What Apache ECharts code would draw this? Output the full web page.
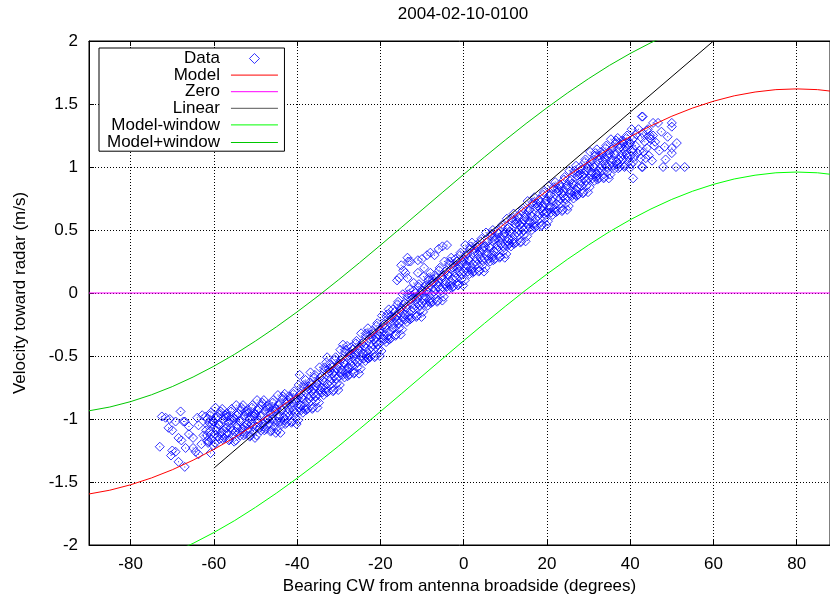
<!DOCTYPE html>
<html>
<head>
    <meta charset="utf-8">
    <script src="https://cdn.jsdelivr.net/npm/echarts/dist/echarts.min.js"></script>
</head>
<body style="margin:0;background-color:#ffffff">
    <div id="main" style="width: 830px;height:596px;"></div>
    <script type="text/javascript">

        var titleText = '2004-02-10-0100';
        var xName = 'Bearing CW from antenna broadside (degrees)';
        var yName = 'Velocity toward radar (m/s)';

        // measured points [bearing deg, velocity m/s]
        var dataPoints = [
            [-73,-1.22],[-72.5,-0.98],[-71.6,-0.99],[-70.6,-1.00],[-70.9,-1.07],[-70,-1.09],[-68,-0.94],[-67,-1.02],
            [-66,-1.06],[-68.5,-1.15],[-67.8,-1.17],[-70,-1.25],[-69.2,-1.26],[-70.3,-1.29],[-68.5,-1.34],[-67,-1.38],
            [-66.8,-1.23],[-65,-1.23],[-64.4,-1.26],[-63.7,-1.28],[-66,-1.12],[-64,-0.99],[-63.7,-1.05],[-62.5,-1.13],
            [-61.5,-1.17],[-60.8,-1.27],[-69.2,-1.02],[-67.3,-1.02],[-65,-1.15],[-63,-1.20],[-62.8,-0.97],[-44,-1.11],
            [-62,-0.98],[-61.75,-1.13],[-61.5,-1.05],[-61.25,-1.18],
            [-61,-1.10],[-60.75,-0.95],[-60.5,-1.16],[-60.25,-1.02],
            [-60,-1.02],[-59.75,-1.19],[-59.5,-0.99],[-59.25,-1.07],
            [-59,-1.14],[-58.75,-1.05],[-58.5,-0.96],[-58.25,-1.11],
            [-58,-0.92],[-57.75,-1.09],[-57.5,-1.15],[-57.25,-0.99],
            [-57,-0.96],[-56.75,-1.11],[-56.5,-1.03],[-56.25,-1.16],
            [-56,-1.07],[-55.75,-0.92],[-55.5,-1.13],[-55.25,-0.99],
            [-55,-1.00],[-54.75,-1.17],[-54.5,-0.97],[-54.25,-1.05],
            [-54,-1.11],[-53.75,-1.02],[-53.5,-0.93],[-53.25,-1.08],
            [-53,-0.89],[-52.75,-1.06],[-52.5,-1.12],[-52.25,-0.96],
            [-52,-0.93],[-51.75,-1.08],[-51.5,-1.00],[-51.25,-1.13],
            [-51,-1.04],[-50.75,-0.89],[-50.5,-1.10],[-50.25,-0.96],
            [-50,-0.96],[-49.75,-1.13],[-49.5,-0.93],[-49.25,-1.01],
            [-49,-1.07],[-48.75,-0.98],[-48.5,-0.89],[-48.25,-1.04],
            [-48,-0.85],[-47.75,-1.02],[-47.5,-1.08],[-47.25,-0.92],
            [-47,-0.89],[-46.75,-1.04],[-46.5,-0.96],[-46.25,-1.09],
            [-46,-1.00],[-45.75,-0.85],[-45.5,-1.06],[-45.25,-0.92],
            [-45,-0.92],[-44.75,-1.09],[-44.5,-0.89],[-44.25,-0.97],
            [-44,-1.02],[-43.75,-0.93],[-43.5,-0.84],[-43.25,-0.99],
            [-43,-0.80],[-42.75,-0.97],[-42.5,-1.03],[-42.25,-0.87],
            [-42,-0.82],[-41.75,-0.97],[-41.5,-0.89],[-41.25,-1.02],
            [-41,-0.93],[-40.75,-0.78],[-40.5,-0.99],[-40.25,-0.85],
            [-40,-0.84],[-39.75,-1.01],[-39.5,-0.81],[-39.25,-0.89],
            [-39,-0.93],[-38.75,-0.84],[-38.5,-0.75],[-38.25,-0.90],
            [-38,-0.69],[-37.75,-0.86],[-37.5,-0.92],[-37.25,-0.76],
            [-37,-0.71],[-36.75,-0.86],[-36.5,-0.78],[-36.25,-0.91],
            [-36,-0.80],[-35.75,-0.65],[-35.5,-0.86],[-35.25,-0.72],
            [-35,-0.70],[-34.75,-0.87],[-34.5,-0.67],[-34.25,-0.75],
            [-34,-0.79],[-33.75,-0.70],[-33.5,-0.61],[-33.25,-0.76],
            [-33,-0.55],[-32.75,-0.72],[-32.5,-0.78],[-32.25,-0.62],
            [-32,-0.57],[-31.75,-0.72],[-31.5,-0.64],[-31.25,-0.77],
            [-31,-0.66],[-30.75,-0.51],[-30.5,-0.72],[-30.25,-0.58],
            [-30,-0.56],[-29.75,-0.73],[-29.5,-0.53],[-29.25,-0.61],
            [-29,-0.65],[-28.75,-0.56],[-28.5,-0.47],[-28.25,-0.62],
            [-28,-0.42],[-27.75,-0.59],[-27.5,-0.65],[-27.25,-0.49],
            [-27,-0.43],[-26.75,-0.58],[-26.5,-0.50],[-26.25,-0.63],
            [-26,-0.53],[-25.75,-0.38],[-25.5,-0.59],[-25.25,-0.45],
            [-25,-0.43],[-24.75,-0.60],[-24.5,-0.40],[-24.25,-0.48],
            [-24,-0.52],[-23.75,-0.43],[-23.5,-0.34],[-23.25,-0.49],
            [-23,-0.28],[-22.75,-0.45],[-22.5,-0.51],[-22.25,-0.35],
            [-22,-0.30],[-21.75,-0.45],[-21.5,-0.37],[-21.25,-0.50],
            [-21,-0.39],[-20.75,-0.24],[-20.5,-0.45],[-20.25,-0.31],
            [-20,-0.29],[-19.75,-0.46],[-19.5,-0.26],[-19.25,-0.34],
            [-19,-0.37],[-18.75,-0.28],[-18.5,-0.19],[-18.25,-0.34],
            [-18,-0.13],[-17.75,-0.30],[-17.5,-0.36],[-17.25,-0.20],
            [-17,-0.13],[-16.75,-0.28],[-16.5,-0.20],[-16.25,-0.33],
            [-16,-0.22],[-15.75,-0.07],[-15.5,-0.28],[-15.25,-0.14],
            [-15,-0.12],[-14.75,-0.29],[-14.5,-0.09],[-14.25,-0.17],
            [-14,-0.21],[-13.75,-0.12],[-13.5,-0.03],[-13.25,-0.18],
            [-13,0.03],[-12.75,-0.14],[-12.5,-0.20],[-12.25,-0.04],
            [-12,0.02],[-11.75,-0.13],[-11.5,-0.05],[-11.25,-0.18],
            [-11,-0.08],[-10.75,0.07],[-10.5,-0.14],[-10.25,0.00],
            [-10,0.02],[-9.75,-0.15],[-9.5,0.05],[-9.25,-0.03],
            [-9,-0.08],[-8.75,0.01],[-8.5,0.10],[-8.25,-0.05],
            [-8,0.16],[-7.75,-0.01],[-7.5,-0.07],[-7.25,0.09],
            [-7,0.14],[-6.75,-0.01],[-6.5,0.07],[-6.25,-0.06],
            [-6,0.05],[-5.75,0.20],[-5.5,-0.01],[-5.25,0.13],
            [-5,0.14],[-4.75,-0.03],[-4.5,0.17],[-4.25,0.09],
            [-4,0.05],[-3.75,0.14],[-3.5,0.23],[-3.25,0.08],
            [-3,0.28],[-2.75,0.11],[-2.5,0.05],[-2.25,0.21],
            [-2,0.27],[-1.75,0.12],[-1.5,0.20],[-1.25,0.07],
            [-1,0.17],[-0.75,0.32],[-0.5,0.11],[-0.25,0.25],
            [0,0.27],[0.25,0.10],[0.5,0.30],[0.75,0.22],
            [1,0.17],[1.25,0.26],[1.5,0.35],[1.75,0.20],
            [2,0.40],[2.25,0.23],[2.5,0.17],[2.75,0.33],
            [3,0.38],[3.25,0.23],[3.5,0.31],[3.75,0.18],
            [4,0.28],[4.25,0.43],[4.5,0.22],[4.75,0.36],
            [5,0.37],[5.25,0.20],[5.5,0.40],[5.75,0.32],
            [6,0.27],[6.25,0.36],[6.5,0.45],[6.75,0.30],
            [7,0.50],[7.25,0.33],[7.5,0.27],[7.75,0.43],
            [8,0.49],[8.25,0.34],[8.5,0.42],[8.75,0.29],
            [9,0.39],[9.25,0.54],[9.5,0.33],[9.75,0.47],
            [10,0.48],[10.25,0.31],[10.5,0.51],[10.75,0.43],
            [11,0.39],[11.25,0.48],[11.5,0.57],[11.75,0.42],
            [12,0.63],[12.25,0.46],[12.5,0.40],[12.75,0.56],
            [13,0.61],[13.25,0.46],[13.5,0.54],[13.75,0.41],
            [14,0.52],[14.25,0.67],[14.5,0.46],[14.75,0.60],
            [15,0.62],[15.25,0.45],[15.5,0.65],[15.75,0.57],
            [16,0.52],[16.25,0.61],[16.5,0.70],[16.75,0.55],
            [17,0.76],[17.25,0.59],[17.5,0.53],[17.75,0.69],
            [18,0.74],[18.25,0.59],[18.5,0.67],[18.75,0.54],
            [19,0.65],[19.25,0.80],[19.5,0.59],[19.75,0.73],
            [20,0.74],[20.25,0.57],[20.5,0.77],[20.75,0.69],
            [21,0.64],[21.25,0.73],[21.5,0.82],[21.75,0.67],
            [22,0.88],[22.25,0.71],[22.5,0.65],[22.75,0.81],
            [23,0.86],[23.25,0.71],[23.5,0.79],[23.75,0.66],
            [24,0.77],[24.25,0.92],[24.5,0.71],[24.75,0.85],
            [25,0.86],[25.25,0.69],[25.5,0.89],[25.75,0.81],
            [26,0.77],[26.25,0.86],[26.5,0.95],[26.75,0.80],
            [27,1.01],[27.25,0.84],[27.5,0.78],[27.75,0.94],
            [28,1.00],[28.25,0.85],[28.5,0.93],[28.75,0.80],
            [29,0.91],[29.25,1.06],[29.5,0.85],[29.75,0.99],
            [30,1.01],[30.25,0.84],[30.5,1.04],[30.75,0.96],
            [31,0.91],[31.25,1.00],[31.5,1.09],[31.75,0.94],
            [32,1.14],[32.25,0.97],[32.5,0.91],[32.75,1.07],
            [33,1.12],[33.25,0.97],[33.5,1.05],[33.75,0.92],
            [34,1.02],[34.25,1.17],[34.5,0.96],[34.75,1.10],
            [35,1.11],[35.25,0.94],[35.5,1.14],[35.75,1.06],
            [36,1.01],[36.25,1.10],[36.5,1.19],[36.75,1.04],
            [37,1.23],[37.25,1.06],[37.5,1.00],[37.75,1.16],
            [38,1.21],[38.25,1.06],[38.5,1.14],[38.75,1.01],
            [39,1.10],[39.25,1.25],[39.5,1.04],[39.75,1.18],
            [40,1.19],[40.25,1.02],[40.5,1.22],[40.75,1.14],
            [41,1.08],[41.25,1.17],[41.5,1.26],[41.75,1.11],
            [42,1.30],[42.25,1.13],[42.5,1.07],[42.75,1.23],
            [43,1.27],[43.25,1.12],[43.5,1.20],[43.75,1.07],
            [44,1.15],[44.25,1.30],[44.5,1.09],[44.75,1.23],
            [45,1.22],[45.25,1.05],[45.5,1.25],[45.75,1.17],
            [-61.875,-1.09],[-61.625,-1.00],[-61.375,-1.19],[-61.125,-1.03],
            [-60.875,-0.97],[-60.625,-1.12],[-60.375,-1.04],[-60.125,-1.21],
            [-59.875,-1.12],[-59.625,-0.91],[-59.375,-1.09],[-59.125,-0.98],
            [-58.875,-1.04],[-58.625,-1.16],[-58.375,-0.94],[-58.125,-1.13],
            [-57.875,-1.16],[-57.625,-1.00],[-57.375,-0.97],[-57.125,-1.07],
            [-56.875,-1.07],[-56.625,-0.98],[-56.375,-1.17],[-56.125,-1.01],
            [-55.875,-0.94],[-55.625,-1.09],[-55.375,-1.01],[-55.125,-1.18],
            [-54.875,-1.10],[-54.625,-0.89],[-54.375,-1.07],[-54.125,-0.96],
            [-53.875,-1.01],[-53.625,-1.13],[-53.375,-0.91],[-53.125,-1.10],
            [-52.875,-1.13],[-52.625,-0.97],[-52.375,-0.94],[-52.125,-1.04],
            [-51.875,-1.04],[-51.625,-0.95],[-51.375,-1.14],[-51.125,-0.98],
            [-50.875,-0.91],[-50.625,-1.06],[-50.375,-0.98],[-50.125,-1.15],
            [-49.875,-1.06],[-49.625,-0.85],[-49.375,-1.03],[-49.125,-0.92],
            [-48.875,-0.97],[-48.625,-1.09],[-48.375,-0.87],[-48.125,-1.06],
            [-47.875,-1.09],[-47.625,-0.93],[-47.375,-0.90],[-47.125,-1.00],
            [-46.875,-1.00],[-46.625,-0.91],[-46.375,-1.10],[-46.125,-0.94],
            [-45.875,-0.87],[-45.625,-1.02],[-45.375,-0.94],[-45.125,-1.11],
            [-44.875,-1.02],[-44.625,-0.81],[-44.375,-0.99],[-44.125,-0.88],
            [-43.875,-0.92],[-43.625,-1.04],[-43.375,-0.82],[-43.125,-1.01],
            [-42.875,-1.04],[-42.625,-0.88],[-42.375,-0.85],[-42.125,-0.95],
            [-41.875,-0.93],[-41.625,-0.84],[-41.375,-1.03],[-41.125,-0.87],
            [-40.875,-0.80],[-40.625,-0.95],[-40.375,-0.87],[-40.125,-1.04],
            [-39.875,-0.94],[-39.625,-0.73],[-39.375,-0.91],[-39.125,-0.80],
            [-38.875,-0.83],[-38.625,-0.95],[-38.375,-0.73],[-38.125,-0.92],
            [-37.875,-0.93],[-37.625,-0.77],[-37.375,-0.74],[-37.125,-0.84],
            [-36.875,-0.82],[-36.625,-0.73],[-36.375,-0.92],[-36.125,-0.76],
            [-35.875,-0.67],[-35.625,-0.82],[-35.375,-0.74],[-35.125,-0.91],
            [-34.875,-0.80],[-34.625,-0.59],[-34.375,-0.77],[-34.125,-0.66],
            [-33.875,-0.69],[-33.625,-0.81],[-33.375,-0.59],[-33.125,-0.78],
            [-32.875,-0.79],[-32.625,-0.63],[-32.375,-0.60],[-32.125,-0.70],
            [-31.875,-0.68],[-31.625,-0.59],[-31.375,-0.78],[-31.125,-0.62],
            [-30.875,-0.53],[-30.625,-0.68],[-30.375,-0.60],[-30.125,-0.77],
            [-29.875,-0.66],[-29.625,-0.45],[-29.375,-0.63],[-29.125,-0.52],
            [-28.875,-0.55],[-28.625,-0.67],[-28.375,-0.45],[-28.125,-0.64],
            [-27.875,-0.66],[-27.625,-0.50],[-27.375,-0.47],[-27.125,-0.57],
            [-26.875,-0.54],[-26.625,-0.45],[-26.375,-0.64],[-26.125,-0.48],
            [-25.875,-0.40],[-25.625,-0.55],[-25.375,-0.47],[-25.125,-0.64],
            [-24.875,-0.53],[-24.625,-0.32],[-24.375,-0.50],[-24.125,-0.39],
            [-23.875,-0.42],[-23.625,-0.54],[-23.375,-0.32],[-23.125,-0.51],
            [-22.875,-0.52],[-22.625,-0.36],[-22.375,-0.33],[-22.125,-0.43],
            [-21.875,-0.41],[-21.625,-0.32],[-21.375,-0.51],[-21.125,-0.35],
            [-20.875,-0.26],[-20.625,-0.41],[-20.375,-0.33],[-20.125,-0.50],
            [-19.875,-0.39],[-19.625,-0.18],[-19.375,-0.36],[-19.125,-0.25],
            [-18.875,-0.27],[-18.625,-0.39],[-18.375,-0.17],[-18.125,-0.36],
            [-17.875,-0.37],[-17.625,-0.21],[-17.375,-0.18],[-17.125,-0.28],
            [-16.875,-0.24],[-16.625,-0.15],[-16.375,-0.34],[-16.125,-0.18],
            [-15.875,-0.09],[-15.625,-0.24],[-15.375,-0.16],[-15.125,-0.33],
            [-14.875,-0.22],[-14.625,-0.01],[-14.375,-0.19],[-14.125,-0.08],
            [-13.875,-0.11],[-13.625,-0.23],[-13.375,-0.01],[-13.125,-0.20],
            [-12.875,-0.21],[-12.625,-0.05],[-12.375,-0.02],[-12.125,-0.12],
            [-11.875,-0.09],[-11.625,0.00],[-11.375,-0.19],[-11.125,-0.03],
            [-10.875,0.05],[-10.625,-0.10],[-10.375,-0.02],[-10.125,-0.19],
            [-9.875,-0.08],[-9.625,0.13],[-9.375,-0.05],[-9.125,0.06],
            [-8.875,0.02],[-8.625,-0.10],[-8.375,0.12],[-8.125,-0.07],
            [-7.875,-0.08],[-7.625,0.08],[-7.375,0.11],[-7.125,0.01],
            [-6.875,0.03],[-6.625,0.12],[-6.375,-0.07],[-6.125,0.09],
            [-5.875,0.18],[-5.625,0.03],[-5.375,0.11],[-5.125,-0.06],
            [-4.875,0.04],[-4.625,0.25],[-4.375,0.07],[-4.125,0.18],
            [-3.875,0.15],[-3.625,0.03],[-3.375,0.25],[-3.125,0.06],
            [-2.875,0.04],[-2.625,0.20],[-2.375,0.23],[-2.125,0.13],
            [-1.875,0.16],[-1.625,0.25],[-1.375,0.06],[-1.125,0.22],
            [-0.875,0.30],[-0.625,0.15],[-0.375,0.23],[-0.125,0.06],
            [0.125,0.17],[0.375,0.38],[0.625,0.20],[0.875,0.31],
            [1.125,0.27],[1.375,0.15],[1.625,0.37],[1.875,0.18],
            [2.125,0.16],[2.375,0.32],[2.625,0.35],[2.875,0.25],
            [3.125,0.27],[3.375,0.36],[3.625,0.17],[3.875,0.33],
            [4.125,0.41],[4.375,0.26],[4.625,0.34],[4.875,0.17],
            [5.125,0.27],[5.375,0.48],[5.625,0.30],[5.875,0.41],
            [6.125,0.37],[6.375,0.25],[6.625,0.47],[6.875,0.28],
            [7.125,0.26],[7.375,0.42],[7.625,0.45],[7.875,0.35],
            [8.125,0.38],[8.375,0.47],[8.625,0.28],[8.875,0.44],
            [9.125,0.52],[9.375,0.37],[9.625,0.45],[9.875,0.28],
            [10.125,0.38],[10.375,0.59],[10.625,0.41],[10.875,0.52],
            [11.125,0.49],[11.375,0.37],[11.625,0.59],[11.875,0.40],
            [12.125,0.39],[12.375,0.55],[12.625,0.58],[12.875,0.48],
            [13.125,0.50],[13.375,0.59],[13.625,0.40],[13.875,0.56],
            [14.125,0.65],[14.375,0.50],[14.625,0.58],[14.875,0.41],
            [15.125,0.52],[15.375,0.73],[15.625,0.55],[15.875,0.66],
            [16.125,0.62],[16.375,0.50],[16.625,0.72],[16.875,0.53],
            [17.125,0.52],[17.375,0.68],[17.625,0.71],[17.875,0.61],
            [18.125,0.63],[18.375,0.72],[18.625,0.53],[18.875,0.69],
            [19.125,0.78],[19.375,0.63],[19.625,0.71],[19.875,0.54],
            [20.125,0.64],[20.375,0.85],[20.625,0.67],[20.875,0.78],
            [21.125,0.74],[21.375,0.62],[21.625,0.84],[21.875,0.65],
            [22.125,0.64],[22.375,0.80],[22.625,0.83],[22.875,0.73],
            [23.125,0.75],[23.375,0.84],[23.625,0.65],[23.875,0.81],
            [24.125,0.90],[24.375,0.75],[24.625,0.83],[24.875,0.66],
            [25.125,0.76],[25.375,0.97],[25.625,0.79],[25.875,0.90],
            [26.125,0.87],[26.375,0.75],[26.625,0.97],[26.875,0.78],
            [27.125,0.77],[27.375,0.93],[27.625,0.96],[27.875,0.86],
            [28.125,0.89],[28.375,0.98],[28.625,0.79],[28.875,0.95],
            [29.125,1.04],[29.375,0.89],[29.625,0.97],[29.875,0.80],
            [30.125,0.91],[30.375,1.12],[30.625,0.94],[30.875,1.05],
            [31.125,1.01],[31.375,0.89],[31.625,1.11],[31.875,0.92],
            [32.125,0.90],[32.375,1.06],[32.625,1.09],[32.875,0.99],
            [33.125,1.01],[33.375,1.10],[33.625,0.91],[33.875,1.07],
            [34.125,1.15],[34.375,1.00],[34.625,1.08],[34.875,0.91],
            [35.125,1.01],[35.375,1.22],[35.625,1.04],[35.875,1.15],
            [36.125,1.11],[36.375,0.99],[36.625,1.21],[36.875,1.02],
            [37.125,0.99],[37.375,1.15],[37.625,1.18],[37.875,1.08],
            [38.125,1.10],[38.375,1.19],[38.625,1.00],[38.875,1.16],
            [39.125,1.23],[39.375,1.08],[39.625,1.16],[39.875,0.99],
            [40.125,1.09],[40.375,1.30],[40.625,1.12],[40.875,1.23],
            [-5.1,0.37],[-8,0.32],[-12.8,0.25],[-14,0.16],[-11,0.16],[-12,0.08],[-15,0.22],[-13.5,0.28],
            [-10,0.27],[-7,0.30],[-6,0.35],[-9.5,0.20],[-15.5,0.12],[-4,0.38],[-13.3,0.25],[-11,0.26],
            [-8.8,0.30],[-14.5,0.18],[-13.5,0.12],[-8.5,0.05],[-16,0.10],
            [-39.4,-0.65],[-36.8,-0.63],[-32.8,-0.51],[-29,-0.41],[-27.7,-0.60],[-23,-0.52],
            [40.7,1.04],[40.7,0.91],[42.8,1.00],[47.9,1.00],[51,1.00],[53.1,1.00],[51.2,1.19],[50,1.11],
            [43,1.40],[46.7,1.35],[50,1.32],[43,1.00],[27,0.82],[19.8,0.64],[32,0.95],[10.7,0.38],
            [46,1.20],[48.3,1.16],[50,1.15],[47,1.13],[44.8,1.25],[44,1.29],[45.5,1.35],[42.8,1.40],
            [49,1.24],[50,1.35],[47.5,1.28],[48.5,1.06]
        ];

        var curveX      = [-90,-85,-80,-75,-70,-65,-60,-55,-50,-45,-40,-35,-30,-25,-20,-15,-10,-5,0,5,10,15,20,25,30,35,40,45,50,55,60,65,70,75,80,85,90];
        var modelVals   = [-1.595,-1.565,-1.522,-1.468,-1.403,-1.327,-1.241,-1.146,-1.041,-0.929,-0.81,-0.685,-0.554,-0.419,-0.281,-0.141,0,0.141,0.281,0.419,0.554,0.685,0.81,0.929,1.041,1.146,1.241,1.327,1.403,1.468,1.522,1.565,1.595,1.614,1.62,1.614,1.595];
        var lowerVals   = [-2.255,-2.225,-2.182,-2.128,-2.063,-1.987,-1.901,-1.806,-1.701,-1.589,-1.47,-1.345,-1.214,-1.079,-0.941,-0.801,-0.66,-0.519,-0.379,-0.241,-0.106,0.025,0.15,0.269,0.381,0.486,0.581,0.667,0.743,0.808,0.862,0.905,0.935,0.954,0.96,0.954,0.935];
        var upperVals   = [-0.935,-0.905,-0.862,-0.808,-0.743,-0.667,-0.581,-0.486,-0.381,-0.269,-0.15,-0.025,0.106,0.241,0.379,0.519,0.66,0.801,0.941,1.079,1.214,1.345,1.47,1.589,1.701,1.806,1.901,1.987,2.063,2.128,2.182,2.225,2.255,2.274,2.28,2.274,2.255];
        var zeroX       = [-90, 90];
        var zeroVals    = [0, 0];
        var linearX     = [-60, 60];
        var linearVals  = [-1.39, 2.0];

        function pairs(xs, ys) {
            var out = [];
            for (var i = 0; i < xs.length; i++) out.push([xs[i], ys[i]]);
            return out;
        }

        var font = 'Liberation Sans, Arial, Helvetica, sans-serif';
        var gridLine = { show: true, lineStyle: { color: '#000', width: 1, type: [1, 2] } };
        var keyText = { fontFamily: font, fontSize: 17, color: '#000', lineHeight: 14, padding: [0, 6, 0, 0] };

        // line keys: keep the series line, hide the marker the legend adds
        function lineKey(name, color) {
            return { name: name, itemStyle: { opacity: 0 }, lineStyle: { color: color, width: 1, opacity: 1 } };
        }

        var myChart = echarts.init(document.getElementById('main'));
        var option = {
            animation: false,
            backgroundColor: '#fff',
            title: {
                text: titleText,
                left: 458, top: 1,
                textAlign: 'center',
                textStyle: { fontFamily: font, fontSize: 17, fontWeight: 'normal', color: '#000' }
            },
            // the key box holds the first five rows; the last row is a second legend placed inside it
            legend: [{
                orient: 'vertical',
                align: 'right',
                left: 99, top: 48,
                padding: [2, 6, 17.8, 12.3],
                backgroundColor: '#fff',
                borderColor: '#000',
                borderWidth: 1,
                borderRadius: 0,
                itemWidth: 47,
                itemHeight: 10,
                itemGap: -0.4,
                textStyle: keyText,
                data: [
                    { name: 'Data', icon: 'path://M4,0L8,4L4,8L0,4Z',
                      itemStyle: { color: 'rgba(0,0,0,0)', borderColor: '#0000ff', borderWidth: 1 } },
                    lineKey('Model', '#ff0000'),
                    lineKey('Zero', '#ff00ff'),
                    lineKey('Linear', '#555555'),
                    lineKey('Model-window', '#00ff00')
                ]
            }, {
                orient: 'vertical',
                align: 'right',
                left: 99, top: 134,
                padding: [0, 6, 0, 8],
                z: 5,
                itemWidth: 47,
                itemHeight: 10,
                textStyle: keyText,
                data: [lineKey('Model+window', '#00c800')]
            }],
            grid: {
                left: 89, top: 41, width: 741, height: 504,
                outerBoundsMode: 'none', containLabel: false,
                show: true, borderColor: '#000', borderWidth: 1
            },
            xAxis: [{
                type: 'value', min: -90, max: 88, splitNumber: 9,
                name: xName, nameLocation: 'middle', nameGap: 32,
                nameTextStyle: { fontFamily: font, fontSize: 17, color: '#000' },
                axisLine: { show: true, onZero: false, lineStyle: { color: '#000' } },
                axisTick: { show: true, inside: true, length: 5, lineStyle: { color: '#000' } },
                axisLabel: { fontFamily: font, fontSize: 17, color: '#000', margin: 11, showMinLabel: false, showMaxLabel: false },
                splitLine: gridLine
            }, {
                type: 'value', min: -90, max: 88, splitNumber: 9, position: 'top',
                axisLine: { show: true, onZero: false, lineStyle: { color: '#000' } },
                axisTick: { show: true, inside: true, length: 5, lineStyle: { color: '#000' } },
                axisLabel: { show: false },
                splitLine: { show: false }
            }],
            yAxis: {
                type: 'value', min: -2, max: 2, interval: 0.5,
                name: yName, nameLocation: 'middle', nameGap: 60,
                nameTextStyle: { fontFamily: font, fontSize: 17, color: '#000' },
                axisLine: { show: true, onZero: false, lineStyle: { color: '#000' } },
                axisTick: { show: true, inside: true, length: 5, lineStyle: { color: '#000' } },
                axisLabel: { fontFamily: font, fontSize: 17, color: '#000', margin: 11 },
                splitLine: gridLine
            },
            series: [{
                name: 'Data', type: 'scatter', symbol: 'diamond', symbolSize: 9,
                itemStyle: { color: 'rgba(0,0,0,0)', borderColor: '#0000ff', borderWidth: 1 },
                data: dataPoints, z: 2
            }, {
                // centre dot of each data marker
                name: 'Data centre', type: 'scatter', symbol: 'rect', symbolSize: 1,
                itemStyle: { color: '#0000ff' }, silent: true,
                data: dataPoints, z: 2
            }, {
                name: 'Model', type: 'line', symbol: 'none', color: '#ff0000',
                lineStyle: { width: 1, color: '#ff0000' }, data: pairs(curveX, modelVals), z: 3
            }, {
                name: 'Zero', type: 'line', symbol: 'none', color: '#ff00ff',
                lineStyle: { width: 1, color: '#ff00ff' }, data: pairs(zeroX, zeroVals), z: 3
            }, {
                name: 'Linear', type: 'line', symbol: 'none', color: '#000000',
                lineStyle: { width: 1, color: '#000000' }, data: pairs(linearX, linearVals), z: 3
            }, {
                name: 'Model-window', type: 'line', symbol: 'none', color: '#00ff00',
                lineStyle: { width: 1, color: '#00ff00' }, data: pairs(curveX, lowerVals), z: 3
            }, {
                name: 'Model+window', type: 'line', symbol: 'none', color: '#00c800',
                lineStyle: { width: 1, color: '#00c800' }, data: pairs(curveX, upperVals), z: 3
            }]
        };
        myChart.setOption(option);
    </script>
</body>
</html>
